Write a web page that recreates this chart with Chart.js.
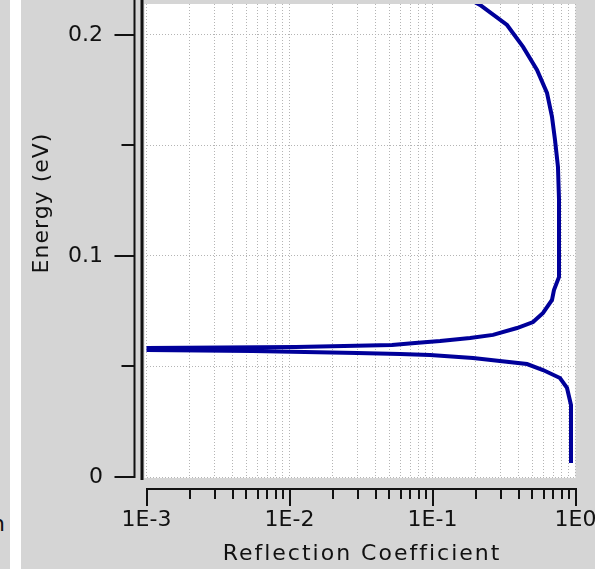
<!DOCTYPE html>
<html>
<head>
<meta charset="utf-8">
<script src="https://cdn.jsdelivr.net/npm/chart.js@4.4.1/dist/chart.umd.min.js"></script>
<style>
  html, body { margin: 0; padding: 0; background: #fff; width: 595px; height: 569px; overflow: hidden; }
  #strip { position: absolute; left: 0; top: 0; width: 10px; height: 569px; background: #d5d5d5; overflow: hidden; }
  #strip span { position: absolute; left: -9px; top: 513px; font: 22px/22px "DejaVu Sans"; color: #111; }
  #wrap { position: absolute; left: 21px; top: 0; }
</style>
</head>
<body>
<div id="strip"><span>n</span></div>
<div id="wrap"><canvas id="c" width="574" height="569"></canvas></div>
<script>
// reflection spectrum, energy in eV (sorted)
var energy = [0.0063, 0.0326, 0.0403, 0.0448, 0.0484, 0.0511, 0.0525, 0.0538,
              0.0552, 0.0557, 0.0561, 0.0570, 0.0575, 0.0579, 0.0584, 0.0588,
              0.0597, 0.0606, 0.0615, 0.0629, 0.0643, 0.0674, 0.0701, 0.0742,
              0.0801, 0.0846, 0.0905, 0.1253, 0.1403, 0.1525, 0.1629, 0.1738,
              0.1842, 0.1946, 0.2045, 0.2136, 0.2180];
var reflect = [0.930, 0.930, 0.872, 0.779, 0.593, 0.458, 0.296, 0.192,
               0.0961, 0.0593, 0.0297, 0.0055, 0.0010, 0.0004, 0.0010, 0.0111,
               0.0521, 0.0755, 0.113, 0.183, 0.265, 0.390, 0.505, 0.593,
               0.685, 0.707, 0.767, 0.767, 0.754, 0.719, 0.685, 0.632,
               0.538, 0.430, 0.332, 0.215, 0.160];

var yTicks  = [0, 0.05, 0.1, 0.15, 0.2];
var yLabels = ['0', '', '0.1', '', '0.2'];
var decades = [0.001, 0.01, 0.1, 1];
var decadeLabels = ['1E-3', '1E-2', '1E-1', '1E0'];
var mantissas = [1, 2, 3, 4, 5, 6, 7, 8, 9];

var xTitle = 'Reflection Coefficient';
var yTitle = 'Energy (eV)';

var ink = '#111111',
    panel = '#d5d5d5',
    navy = '#00009a';

var xTicks = [], xLabels = [];
decades.forEach(function (d, i) {
  if (i === decades.length - 1) {
    xTicks.push(d); xLabels.push(decadeLabels[i]);
    return;
  }
  mantissas.forEach(function (m) {
    xTicks.push(+(d * m).toPrecision(3));
    xLabels.push(m === 1 ? decadeLabels[i] : '');
  });
});

var points = energy.map(function (e, i) { return { x: reflect[i], y: e }; });

// gray panel, white plot, offset axes and the titles
var frame = {
  id: 'frame',
  beforeDraw: function (chart) {
    var ctx = chart.ctx, a = chart.chartArea;
    ctx.save();
    ctx.fillStyle = panel;
    ctx.fillRect(0, 0, chart.width, chart.height);
    ctx.fillStyle = '#fff';
    ctx.fillRect(a.left - 2, a.top, a.right - a.left + 2, a.bottom - a.top + 1);
    ctx.restore();
  },
  afterDraw: function (chart) {
    var ctx = chart.ctx, a = chart.chartArea,
        xs = chart.scales.x, ys = chart.scales.y;
    ctx.save();
    ctx.strokeStyle = ink;

    ctx.lineWidth = 3;
    ctx.beginPath();
    ctx.moveTo(a.left - 4.5, 0);
    ctx.lineTo(a.left - 4.5, a.bottom + 3);
    ctx.stroke();

    var ax = a.left - 12;
    ctx.lineWidth = 2;
    ctx.beginPath();
    ctx.moveTo(ax, 0);
    ctx.lineTo(ax, a.bottom + 1);
    yTicks.forEach(function (v, i) {
      var py = Math.round(ys.getPixelForValue(v));
      ctx.moveTo(ax + 1, py);
      ctx.lineTo(ax - (yLabels[i] ? 20 : 13), py);
    });
    ctx.stroke();

    var ay = a.bottom + 12;
    ctx.beginPath();
    ctx.moveTo(a.left, ay);
    ctx.lineTo(a.right + 1, ay);
    xTicks.forEach(function (v, i) {
      var px = Math.round(xs.getPixelForValue(v));
      ctx.moveTo(px, ay - 1);
      ctx.lineTo(px, ay + (xLabels[i] ? 17 : 10));
    });
    ctx.stroke();

    ctx.fillStyle = ink;
    ctx.font = '22px "DejaVu Sans"';
    ctx.letterSpacing = '2px';
    ctx.textAlign = 'center';
    ctx.textBaseline = 'alphabetic';
    ctx.fillText(xTitle, 341, 560);

    ctx.letterSpacing = '1px';
    ctx.translate(21, 203);
    ctx.rotate(-Math.PI / 2);
    ctx.textBaseline = 'middle';
    ctx.fillText(yTitle, 0, 0);
    ctx.restore();
  }
};

new Chart(document.getElementById('c'), {
  type: 'scatter',
  data: {
    datasets: [{
      data: points,
      showLine: true,
      borderColor: navy,
      backgroundColor: navy,
      borderWidth: 4,
      pointRadius: 0,
      tension: 0
    }]
  },
  options: {
    responsive: false,
    animation: false,
    devicePixelRatio: 1,
    layout: { padding: { left: 0, right: 19.5, top: 4, bottom: 0 } },
    plugins: { legend: { display: false }, tooltip: { enabled: false } },
    scales: {
      x: {
        type: 'logarithmic',
        min: 0.001,
        max: 1,
        afterBuildTicks: function (s) {
          s.ticks = xTicks.map(function (v) { return { value: v }; });
        },
        afterFit: function (s) {
          s.height = 92; s.paddingLeft = 0; s.paddingRight = 0;
        },
        grid: { color: '#b4b4b4', lineWidth: 1, drawTicks: false },
        border: { display: false, dash: [1, 2] },
        ticks: {
          autoSkip: false,
          maxRotation: 0,
          minRotation: 0,
          padding: 30,
          color: ink,
          font: { family: 'DejaVu Sans', size: 22 },
          callback: function (v, i) { return xLabels[i]; }
        }
      },
      y: {
        type: 'linear',
        min: 0,
        max: 0.214,
        afterBuildTicks: function (s) {
          s.ticks = yTicks.map(function (v) { return { value: v }; });
        },
        afterFit: function (s) {
          s.width = 125.5; s.paddingTop = 0; s.paddingBottom = 0;
        },
        grid: { color: '#b4b4b4', lineWidth: 1, drawTicks: false },
        border: { display: false, dash: [1, 2] },
        ticks: {
          padding: 43.5,
          color: ink,
          font: { family: 'DejaVu Sans', size: 22 },
          callback: function (v, i) { return yLabels[i]; }
        }
      }
    }
  },
  plugins: [frame]
});
</script>
</body>
</html>
